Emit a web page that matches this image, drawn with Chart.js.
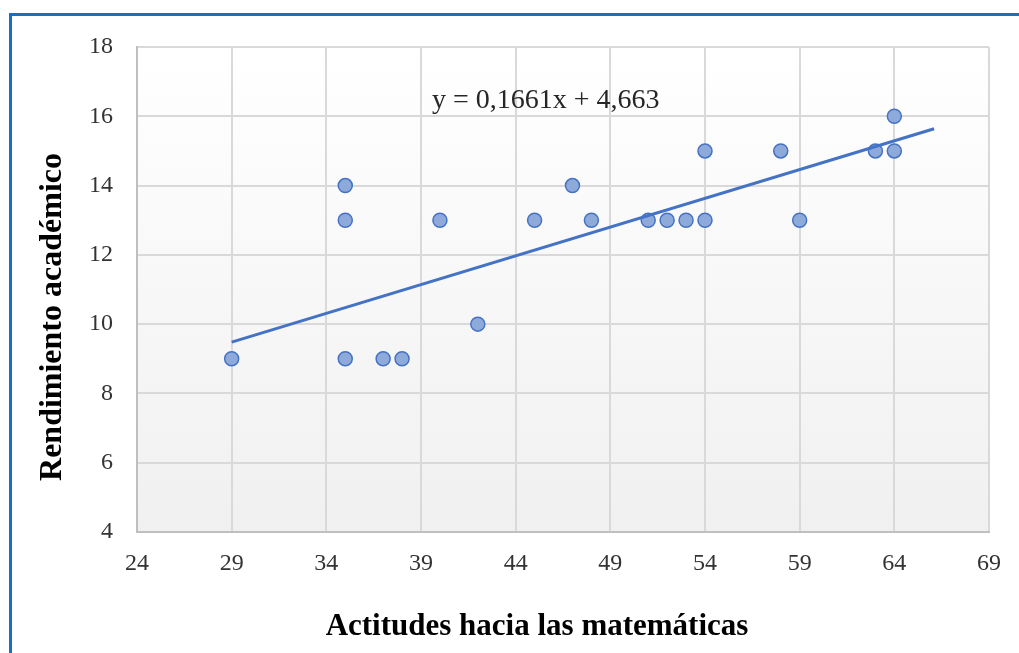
<!DOCTYPE html>
<html>
<head>
<meta charset="utf-8">
<script src="https://cdn.jsdelivr.net/npm/chart.js@4"></script>
<style>
  html, body { margin: 0; padding: 0; background: #ffffff; }
  #wrap { width: 1019px; height: 653px; position: relative; }
</style>
</head>
<body>
<div id="wrap"><canvas id="scatter-Chart" width="1019" height="653"></canvas></div>
<script>
// -------------------- DATA --------------------

// Actitudes hacia las matemáticas (x) and Rendimiento académico (y)
const actitudes = [29, 35, 35, 35, 37, 38, 40, 42, 45, 47, 48, 51, 52, 53, 54, 54, 58, 59, 63, 64, 64];
const rendimiento = [9, 14, 13, 9, 9, 9, 13, 10, 13, 14, 13, 13, 13, 13, 15, 13, 15, 13, 15, 15, 16];

// Trend line ends as drawn in the picture
const trendX = [29, 66.1];
const trendY = [9.48, 15.64];

const xTicks = [24, 29, 34, 39, 44, 49, 54, 59, 64, 69];
const yTicks = [4, 6, 8, 10, 12, 14, 16, 18];

const equationText = "y = 0,1661x + 4,663";
const xTitle = "Actitudes hacia las matemáticas";
const yTitle = "Rendimiento académico";

const serif = "'Liberation Serif', 'Times New Roman', serif";

// -------------------- PLUGINS --------------------

// Gradient plot background + blue frame
const backdrop = {
  id: "backdrop",
  beforeDraw(chart) {
    const { ctx, chartArea: a } = chart;
    ctx.save();
    const g = ctx.createLinearGradient(0, a.top, 0, a.bottom);
    g.addColorStop(0, "#ffffff");
    g.addColorStop(1, "#f0f0f0");
    ctx.fillStyle = g;
    ctx.fillRect(a.left, a.top, a.right - a.left, a.bottom - a.top);
    // frame (top and left only, as in the picture)
    ctx.strokeStyle = "#1670c4";
    ctx.lineWidth = 3;
    ctx.beginPath();
    ctx.moveTo(1019, 14.5);
    ctx.lineTo(10.5, 14.5);
    ctx.lineTo(10.5, 653);
    ctx.stroke();
    ctx.restore();
  },
};

// Titles and the trend equation
const labels = {
  id: "labels",
  afterDraw(chart) {
    const { ctx } = chart;
    ctx.save();
    ctx.fillStyle = "#000000";
    ctx.textAlign = "center";
    ctx.textBaseline = "middle";
    ctx.font = "bold 31px " + serif;
    ctx.fillText(xTitle, 537, 627);
    ctx.font = "bold 32px " + serif;
    ctx.translate(53, 317);
    ctx.rotate(-Math.PI / 2);
    ctx.fillText(yTitle, 0, 0);
    ctx.restore();

    ctx.save();
    ctx.fillStyle = "#262626";
    ctx.font = "28px " + serif;
    ctx.textAlign = "left";
    ctx.textBaseline = "middle";
    ctx.fillText(equationText, 432, 101);
    ctx.restore();
  },
};

// -------------------- CHART --------------------

const ctx = document.getElementById("scatter-Chart");

new Chart(ctx, {
  type: "scatter",
  data: {
    datasets: [
      {
        label: "Datos",
        data: actitudes.map((x, i) => ({ x, y: rendimiento[i] })),
        backgroundColor: "#8eaadb",
        borderColor: "#4472c4",
        borderWidth: 1.5,
        pointRadius: 7,
        order: 2,
      },
      {
        label: "Tendencia",
        type: "line",
        data: trendX.map((x, i) => ({ x, y: trendY[i] })),
        borderColor: "#4472c4",
        borderWidth: 3,
        pointRadius: 0,
        fill: false,
        order: 1,
      },
    ],
  },
  options: {
    responsive: false,
    animation: false,
    layout: { padding: { top: 47, right: 30, left: 0, bottom: 0 } },
    plugins: {
      legend: { display: false },
      tooltip: { enabled: false },
    },
    scales: {
      x: {
        type: "linear",
        min: 24,
        max: 69,
        afterBuildTicks: (s) => (s.ticks = xTicks.map((v) => ({ value: v }))),
        afterFit: (s) => (s.height = 121),
        ticks: { color: "#333333", font: { family: serif, size: 24 }, padding: 17 },
        grid: { color: "#d9d9d9", lineWidth: 2, drawTicks: false },
        border: { color: "#bfbfbf", width: 2 },
      },
      y: {
        type: "linear",
        min: 4,
        max: 18,
        afterBuildTicks: (s) => (s.ticks = yTicks.map((v) => ({ value: v }))),
        afterFit: (s) => (s.width = 137),
        ticks: { color: "#333333", font: { family: serif, size: 24 }, padding: 24 },
        grid: { color: "#d9d9d9", lineWidth: 2, drawTicks: false },
        border: { color: "#bfbfbf", width: 2 },
      },
    },
  },
  plugins: [backdrop, labels],
});
</script>
</body>
</html>
